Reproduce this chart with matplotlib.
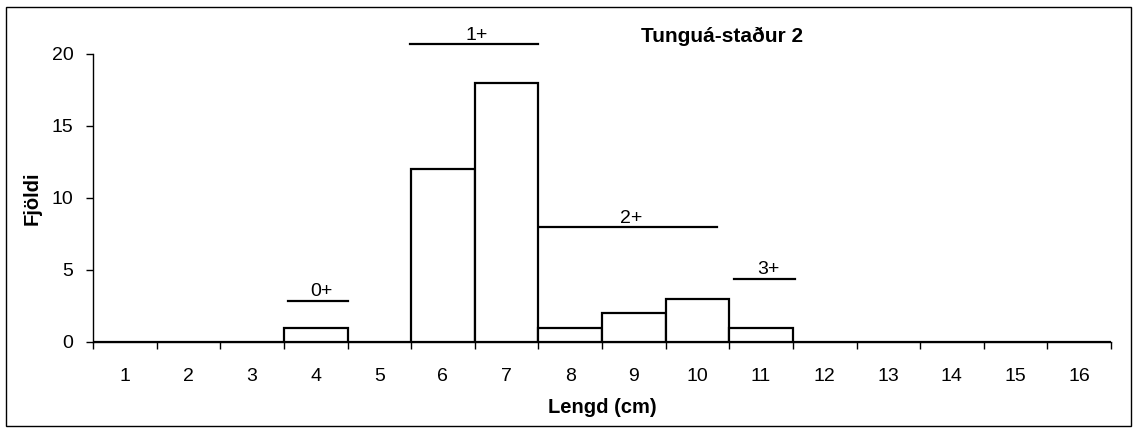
import matplotlib
matplotlib.use("Agg")
import matplotlib.pyplot as plt
from matplotlib.patches import Rectangle

plt.rcParams['font.family'] = ['Liberation Sans', 'DejaVu Sans']

categories = list(range(1, 17))
counts = [0, 0, 0, 1, 0, 12, 18, 1, 2, 3, 1, 0, 0, 0, 0, 0]
yticks = [0, 5, 10, 15, 20]

# age-group annotations: label, x start, x end, y level
age_labels = ["0+", "1+", "2+", "3+"]
age_x0 = [3.57, 5.48, 7.51, 10.58]
age_x1 = [4.50, 7.49, 10.31, 11.54]
age_y = [2.87, 20.67, 8.0, 4.4]

title = "Tunguá-staður 2"
xlabel = "Lengd (cm)"
ylabel = "Fjöldi"

fig = plt.figure(figsize=(11.37, 4.32), dpi=100)
ax = fig.add_axes([93/1137, 1-342/432, (1111-93)/1137, (342-54)/432])

ax.bar(categories, counts, width=1.0, color='white', edgecolor='black', linewidth=1.6, zorder=3)

ax.set_xlim(0.5, 16.5)
ax.set_ylim(0, 20)
ax.set_yticks(yticks)
ax.set_xticks(categories)
ax.set_xticks([c + 0.5 for c in [0] + categories], minor=True)
ax.tick_params(axis='x', which='major', length=0, pad=19, labelsize=14)
ax.tick_params(axis='x', which='minor', length=5, width=1, direction='out')
ax.tick_params(axis='y', length=5, width=1, direction='out', pad=9, labelsize=14)
for s in ['top', 'right']:
    ax.spines[s].set_visible(False)
for s in ['left', 'bottom']:
    ax.spines[s].set_linewidth(1)

for lab, x0, x1, y in zip(age_labels, age_x0, age_x1, age_y):
    ax.plot([x0, x1], [y, y], color='black', linewidth=1.6, clip_on=False, zorder=4)
    ax.text((x0 + x1) / 2 + 0.05, y + 0.02, lab, ha='center', va='bottom', fontsize=14, clip_on=False)

ax.set_xlabel(xlabel, fontsize=14.5, fontweight='bold', labelpad=9)
ax.set_ylabel(ylabel, fontsize=14.5, fontweight='bold', labelpad=7)
fig.text(722/1137, 1-36/432, title, ha='center', va='center', fontsize=15, fontweight='bold')

fig.patches.append(Rectangle((6/1137, 1-426/432), (1131-6)/1137, (426-7)/432,
                             transform=fig.transFigure, fill=False, edgecolor='black', linewidth=1.0))

fig.savefig("out.png", dpi=100)
